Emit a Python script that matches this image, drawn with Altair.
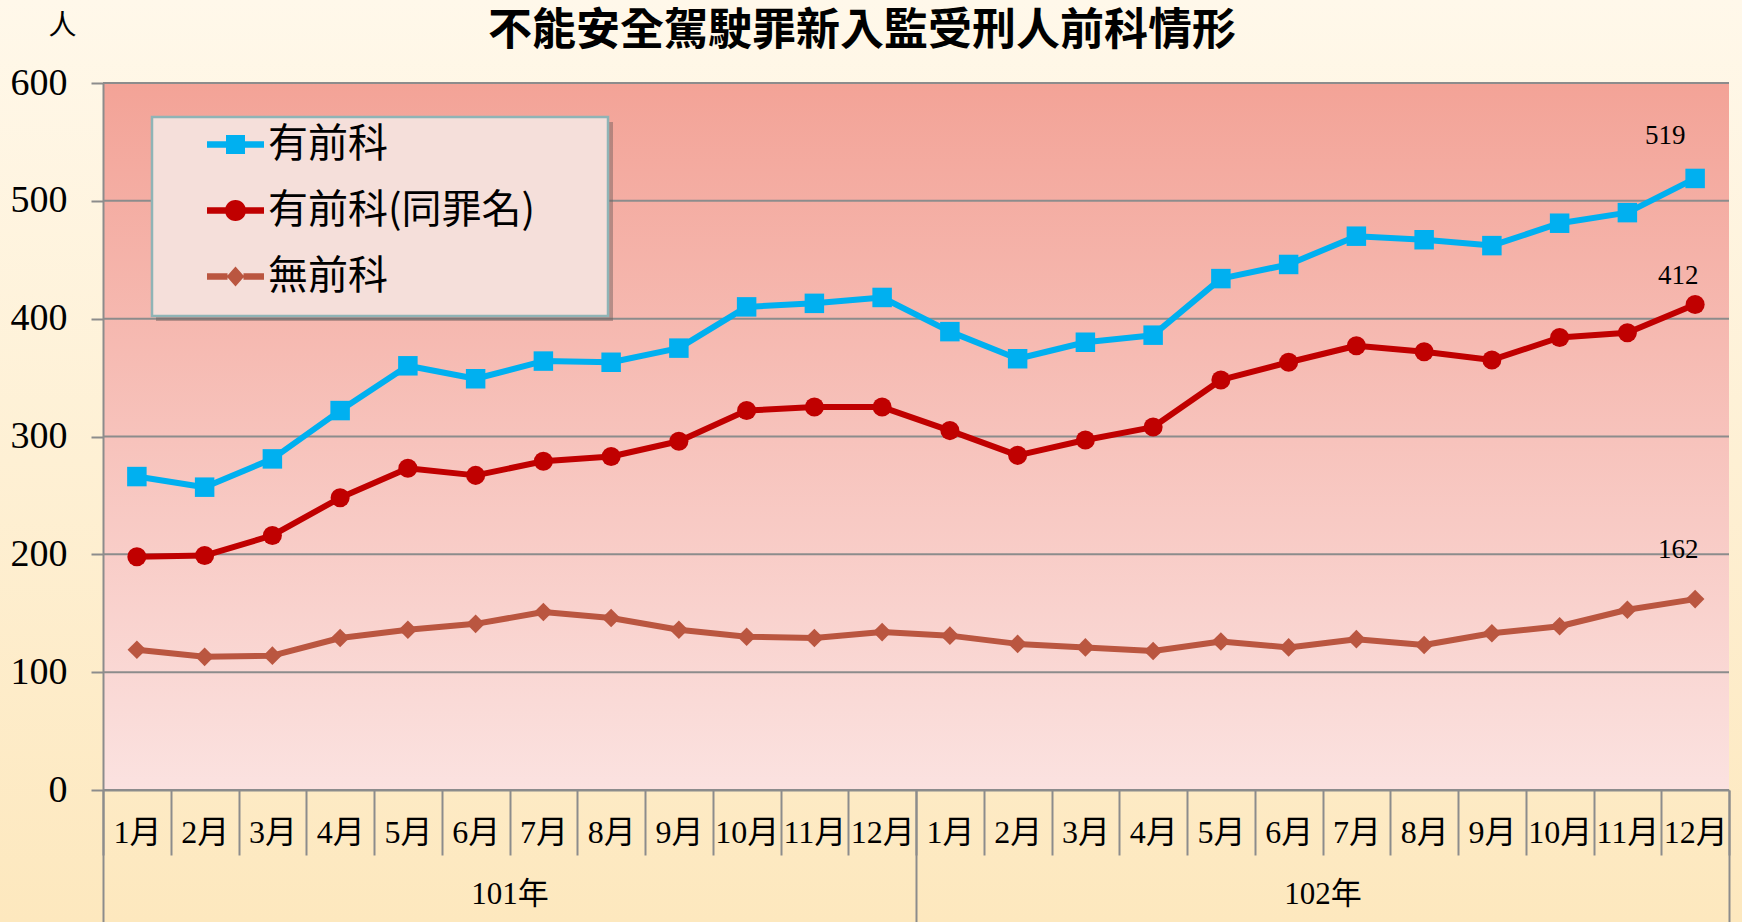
import altair as alt
import pandas as pd

# ---------------- data ----------------
title_text = "不能安全駕駛罪新入監受刑人前科情形"
years = ["101年", "102年"]
months = ["1月", "2月", "3月", "4月", "5月", "6月", "7月", "8月", "9月", "10月", "11月", "12月"]
series = ["有前科", "有前科(同罪名)", "無前科"]
prior = [266, 257, 281, 322, 360, 349, 364, 363, 375, 410, 413, 418,
         389, 366, 380, 386, 434, 446, 470, 467, 462, 481, 490, 519]
prior_same = [198, 199, 216, 248, 273, 267, 279, 283, 296, 322, 325, 325,
              305, 284, 297, 308, 348, 363, 377, 372, 365, 384, 388, 412]
no_prior = [119, 113, 114, 129, 136, 141, 151, 146, 136, 130, 129, 134,
            131, 124, 121, 118, 126, 121, 128, 123, 133, 139, 153, 162]
y_ticks = [0, 100, 200, 300, 400, 500, 600]

# ---------------- styles ----------------
colors = ["#00B0F0", "#C00000", "#BA5640"]
marker_shapes = ["square", "circle", "diamond"]
marker_sizes = [380, 346, 420]
legend_shapes = [
    "M-1,-0.114H-0.3V0.114H-1Z M0.3,-0.114H1V0.114H0.3Z M-0.333,-0.333H0.333V0.333H-0.333Z",
    "M-1,-0.114H-0.33V0.114H-1Z M0.33,-0.114H1V0.114H0.33Z M-0.37,0A0.37,0.37 0 1,1 0.37,0A0.37,0.37 0 1,1 -0.37,0Z",
    "M-1,-0.114H-0.28V0.114H-1Z M0.28,-0.114H1V0.114H0.28Z M-0.31,0L0,-0.35L0.31,0L0,0.35Z",
]
label_offsets = {"有前科": (-30, -42), "有前科(同罪名)": (-17, -29), "無前科": (-17, -49)}
W, H = 1626, 707
PAD = {"left": 103, "top": 83, "right": 13, "bottom": 132}
GRAY = "#8C8C8C"
SERIF = "Liberation Serif, Noto Sans CJK TC"

keys = [y + m for y in years for m in months]
rows = []
for s, vals in zip(series, [prior, prior_same, no_prior]):
    for i, v in enumerate(vals):
        rows.append({"series": s, "key": keys[i], "year": years[i // 12], "value": v})
df = pd.DataFrame(rows)
one = pd.DataFrame({"a": [0]})

yscale = alt.Scale(domain=[0, 600], nice=False, zero=True)
xscale = alt.Scale(domain=keys, type="band", paddingInner=0, paddingOuter=0)
cscale = alt.Scale(domain=series, range=colors)

y_axis = alt.Axis(values=y_ticks, grid=False, domain=True, domainColor=GRAY, domainWidth=2,
                  ticks=True, tickColor=GRAY, tickWidth=2, tickSize=12,
                  labelFont="Liberation Serif", labelFontSize=38, labelColor="black", labelPadding=24,
                  title="人", titleAngle=0, titleX=-41, titleY=-57, titleAlign="center",
                  titleBaseline="middle", titleFont=SERIF, titleFontSize=28, titleFontWeight="normal",
                  titleColor="black", zindex=1)
month_axis = alt.Axis(orient="bottom", domain=True, domainColor=GRAY, domainWidth=2,
                      ticks=True, tickBand="extent", tickSize=65, tickColor=GRAY, tickWidth=2,
                      labelExpr="split(datum.label, '年')[1]", labelFont=SERIF, labelFontSize=32,
                      labelColor="black", labelPadding=-23, labelBaseline="middle", labelAngle=0,
                      labelOverlap=False, labelFlush=False, grid=False, title=None, zindex=1)
year_axis = alt.Axis(orient="bottom", domain=False, ticks=True, tickBand="extent", tickSize=132,
                     tickColor=GRAY, tickWidth=2, labelFont=SERIF, labelFontSize=31, labelColor="black",
                     labelPadding=-28, labelBaseline="middle", labelAngle=0, labelOverlap=False,
                     labelFlush=False, grid=False, title=None, zindex=1)


def X():
    return alt.X("key:N", scale=xscale, axis=month_axis, bandPosition=0.5, title=None)


def Y(field="value:Q"):
    return alt.Y(field, scale=yscale, axis=y_axis, title="人")


# backgrounds
outer_grad = alt.LinearGradient(gradient="linear", x1=0, x2=0, y1=0, y2=1,
                                stops=[alt.GradientStop(offset=0, color="#FFF8EA"),
                                       alt.GradientStop(offset=1, color="#FDE8BE")])
plot_grad = alt.LinearGradient(gradient="linear", x1=0, x2=0, y1=0, y2=1,
                               stops=[alt.GradientStop(offset=0, color="#F3A397"),
                                      alt.GradientStop(offset=1, color="#FBE2E0")])
full_bg = alt.Chart(one).mark_rect(color=outer_grad).encode(
    x=alt.value(-PAD["left"]), x2=alt.value(W + PAD["right"]),
    y=alt.value(-PAD["top"]), y2=alt.value(H + PAD["bottom"]))
plot_bg = alt.Chart(one).mark_rect(color=plot_grad).encode(
    x=alt.value(0), x2=alt.value(W), y=alt.value(0), y2=alt.value(H))

# chart title
title_mark = alt.Chart(pd.DataFrame({"t": [title_text]})).mark_text(
    font="Noto Sans CJK TC", fontSize=44, fontWeight="bold", color="black",
    align="center", baseline="alphabetic").encode(
    text="t:N", x=alt.value(W / 2 - 54), y=alt.value(-38))

grid = alt.Chart(pd.DataFrame({"value": y_ticks})).mark_rule(color=GRAY, strokeWidth=2).encode(y=Y())

# legend box (decoration)
legend_shadow = alt.Chart(one).mark_rect(color="#6b5a58", opacity=0.45).encode(
    x=alt.value(53), x2=alt.value(510), y=alt.value(39), y2=alt.value(238))
legend_box = alt.Chart(one).mark_rect(fill="#F5DFDA", stroke="#8FB4B6", strokeWidth=2.5).encode(
    x=alt.value(49), x2=alt.value(505), y=alt.value(34), y2=alt.value(233))

lines = alt.Chart(df).mark_line(strokeWidth=6, strokeJoin="round").encode(
    x=X(), y=Y(),
    color=alt.Color("series:N", scale=cscale, legend=None),
    detail="series:N")
points = alt.Chart(df).mark_point(filled=True, opacity=1, strokeWidth=0).encode(
    x=X(), y=Y(),
    color=alt.Color("series:N", scale=cscale, legend=None),
    shape=alt.Shape("series:N", scale=alt.Scale(domain=series, range=marker_shapes), legend=None),
    size=alt.Size("series:N", scale=alt.Scale(domain=series, range=marker_sizes), legend=None))

labels = []
for s in series:
    dx, dy = label_offsets[s]
    labels.append(
        alt.Chart(df).transform_filter(
            (alt.datum.series == s) & (alt.datum.key == keys[-1])
        ).mark_text(font="Liberation Serif", fontSize=27, color="black", dx=dx, dy=dy,
                    align="center", baseline="middle").encode(
            x=X(), y=Y(), text="value:Q"))

inner = alt.layer(full_bg, plot_bg, title_mark, grid, legend_shadow, legend_box, lines, points, *labels)

year_layer = alt.Chart(df).mark_point(opacity=0).encode(
    x=alt.X("year:N", scale=alt.Scale(domain=years, type="band", paddingInner=0, paddingOuter=0),
            axis=year_axis, title=None),
    y=Y())

leg = alt.Legend(orient="none", legendX=104, legendY=33, title=None, padding=0, rowPadding=17,
                 symbolSize=3249, labelFont="Noto Sans CJK TC", labelFontSize=40, labelColor="black",
                 labelOffset=4, labelLimit=0, symbolStrokeWidth=0, symbolOpacity=1, zindex=1)
legend_layer = alt.Chart(df).transform_filter("false").mark_point(filled=True, opacity=1, size=3249).encode(
    color=alt.Color("series:N", scale=alt.Scale(domain=series, range=colors), legend=leg),
    shape=alt.Shape("series:N", scale=alt.Scale(domain=series, range=legend_shapes), legend=leg))

chart = alt.layer(inner, year_layer, legend_layer).resolve_scale(
    x="independent", color="independent", shape="independent"
).properties(
    width=W, height=H,
    padding=PAD,
    autosize=alt.AutoSizeParams(type="none"),
).configure(background="#FEF2D6").configure_view(stroke=None)

chart.save("out.html", embed_options={"renderer": "svg", "actions": False})
